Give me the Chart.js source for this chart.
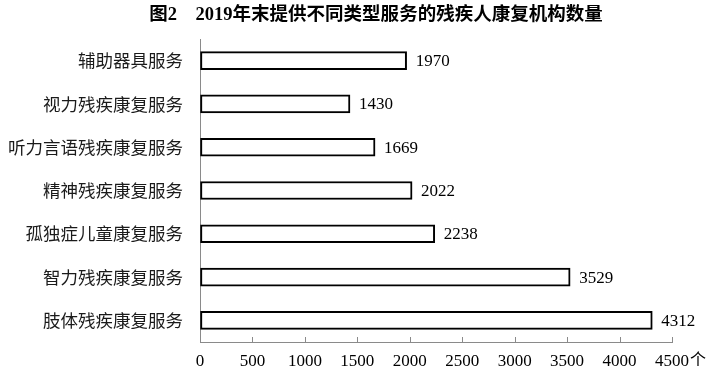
<!DOCTYPE html>
<html>
<head>
<meta charset="utf-8">
<script src="https://cdn.jsdelivr.net/npm/chart.js@4/dist/chart.umd.min.js"></script>
<style>
  html, body { margin: 0; padding: 0; background: #fff; }
  #wrap { width: 712px; height: 377px; position: relative; }
</style>
</head>
<body>
<div id="wrap"><canvas id="c" width="712" height="377"></canvas></div>
<script>
const titleText = "图2　2019年末提供不同类型服务的残疾人康复机构数量";
const unitText = "个";
const categories = [
  "辅助器具服务",
  "视力残疾康复服务",
  "听力言语残疾康复服务",
  "精神残疾康复服务",
  "孤独症儿童康复服务",
  "智力残疾康复服务",
  "肢体残疾康复服务"
];
const counts = [1970, 1430, 1669, 2022, 2238, 3529, 4312];
const xTicks = [0, 500, 1000, 1500, 2000, 2500, 3000, 3500, 4000, 4500];

const AXIS = "#8a8a8a";
const NUM_FONT = "17px 'Liberation Serif', 'Noto Sans CJK SC', serif";

const extras = {
  id: "extras",
  afterDraw(chart) {
    const ctx = chart.ctx;
    const xs = chart.scales.x;
    const area = chart.chartArea;
    ctx.save();
    // inward tick marks
    ctx.strokeStyle = AXIS;
    ctx.lineWidth = 1;
    xs.ticks.forEach((t, i) => {
      const px = Math.round(xs.getPixelForTick(i)) + 0.5;
      ctx.beginPath();
      ctx.moveTo(px, area.bottom - 5);
      ctx.lineTo(px, area.bottom);
      ctx.stroke();
    });
    // value labels
    ctx.fillStyle = "#000";
    ctx.font = NUM_FONT;
    ctx.textAlign = "left";
    ctx.textBaseline = "middle";
    const meta = chart.getDatasetMeta(0);
    meta.data.forEach((bar, i) => {
      ctx.fillText(String(counts[i]), bar.x + 9, bar.y + 1);
    });
    // unit
    ctx.font = "16px 'Noto Sans CJK SC', sans-serif";
    ctx.fillText(unitText, xs.getPixelForValue(xTicks[xTicks.length - 1]) + 18, 359);
    // title
    ctx.font = "bold 18.5px 'Liberation Serif', 'Noto Sans CJK SC', serif";
    ctx.textAlign = "center";
    ctx.fillText(titleText, 376, 15);
    ctx.restore();
  }
};

new Chart(document.getElementById("c"), {
  type: "bar",
  data: {
    labels: categories,
    datasets: [{
      data: counts,
      backgroundColor: "#ffffff",
      borderColor: "#000000",
      borderWidth: 2,
      borderSkipped: false,
      barThickness: 18
    }]
  },
  options: {
    indexAxis: "y",
    responsive: false,
    animation: false,
    devicePixelRatio: 1,
    layout: { padding: { top: 39, right: 40, left: 0, bottom: 0 } },
    plugins: {
      legend: { display: false },
      title: { display: false },
      tooltip: { enabled: false }
    },
    scales: {
      x: {
        type: "linear",
        min: 0,
        max: 4500,
        afterBuildTicks(scale) { scale.ticks = xTicks.map(v => ({ value: v })); },
        afterFit(scale) { scale.height = 35; },
        grid: { display: true, drawOnChartArea: false, drawTicks: false },
        border: { display: true, color: AXIS, width: 1 },
        ticks: {
          color: "#000",
          font: { family: "'Liberation Serif', serif", size: 17 },
          padding: 9,
          maxRotation: 0,
          callback: (v) => String(v)
        }
      },
      y: {
        afterFit(scale) { scale.width = 200; },
        grid: { display: true, drawOnChartArea: false, drawTicks: false },
        border: { display: true, color: AXIS, width: 1 },
        ticks: {
          color: "#1a1a1a",
          font: { family: "'Noto Sans CJK SC', sans-serif", size: 17.5 },
          padding: 17
        }
      }
    }
  },
  plugins: [extras]
});
</script>
</body>
</html>
